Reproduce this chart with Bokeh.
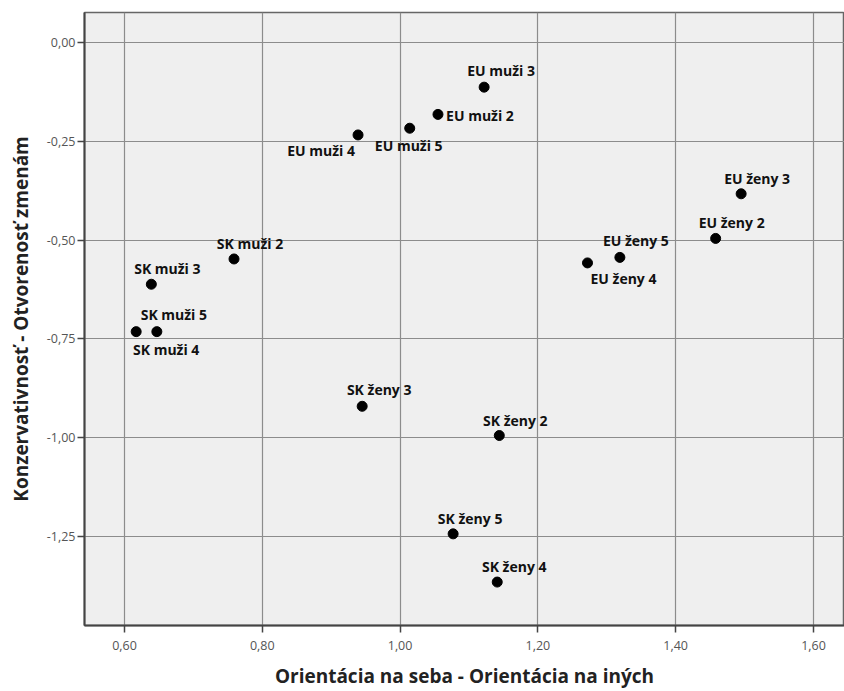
from bokeh.plotting import figure
from bokeh.models import FixedTicker, CustomJSTickFormatter, ColumnDataSource, Range1d
from bokeh.core.properties import value
from bokeh.embed import file_html
from bokeh.resources import INLINE

labels = ["EU muži 3", "EU muži 2", "EU muži 5", "EU muži 4",
          "EU ženy 3", "EU ženy 2", "EU ženy 5", "EU ženy 4",
          "SK muži 2", "SK muži 3", "SK muži 5", "SK muži 4",
          "SK ženy 3", "SK ženy 2", "SK ženy 5", "SK ženy 4"]
x_vals = [1.122, 1.055, 1.014, 0.939,
          1.495, 1.458, 1.319, 1.272,
          0.759, 0.639, 0.647, 0.617,
          0.945, 1.144, 1.077, 1.141]
y_vals = [-0.113, -0.182, -0.217, -0.234,
          -0.383, -0.496, -0.544, -0.558,
          -0.548, -0.612, -0.732, -0.732,
          -0.921, -0.995, -1.244, -1.366]
x_ticks = [0.6, 0.8, 1.0, 1.2, 1.4, 1.6]
y_ticks = [0.0, -0.25, -0.5, -0.75, -1.0, -1.25]

# label offsets in screen pixels (dx right, dy down)
label_dx = [17, 42, -1, -37, 16, 16, 16, 36, 16, 16, 17, 30, 17, 16, 17, 17]
label_dy = [-17, 1, 17, 16, -15, -16, -17, 16, -15, -16, -17, 18, -17, -15, -15, -16]

src = ColumnDataSource(dict(x=x_vals, y=y_vals, label=labels, dx=label_dx, dy=label_dy))

p = figure(width=844, height=691, output_backend="svg", toolbar_location=None,
           x_range=Range1d(0.542, 1.645), y_range=Range1d(-1.476, 0.076),
           min_border_left=84, min_border_right=0, min_border_top=12, min_border_bottom=66)

p.background_fill_color = "#efefef"
p.border_fill_color = "white"
p.outline_line_color = "#666666"
p.outline_line_width = 1.5

for ax in (p.xaxis, p.yaxis):
    ax.formatter = CustomJSTickFormatter(code="return tick.toFixed(2).replace('.', ',');")
    ax.major_label_text_font = "Open Sans"
    ax.major_label_text_font_size = "12.5px"
    ax.major_label_text_color = "#555555"
    ax.axis_label_text_font = "Open Sans"
    ax.axis_label_text_font_style = "bold"
    ax.axis_label_text_font_size = "19px"
    ax.axis_label_text_color = "#222222"
    ax.axis_line_color = "#444444"
    ax.axis_line_width = 2
    ax.major_tick_line_color = "#444444"
    ax.major_tick_line_width = 1.5
    ax.major_tick_in = 0
    ax.major_tick_out = 7
    ax.minor_tick_line_color = None

p.xaxis.ticker = FixedTicker(ticks=x_ticks)
p.yaxis.ticker = FixedTicker(ticks=y_ticks)
p.xaxis.axis_label = "Orientácia na seba - Orientácia na iných"
p.yaxis.axis_label = "Konzervativnosť - Otvorenosť zmenám"
p.xaxis.major_label_standoff = 8
p.yaxis.major_label_standoff = 2
p.xaxis.axis_label_standoff = 10
p.yaxis.axis_label_standoff = 10

p.xgrid.ticker = FixedTicker(ticks=x_ticks)
p.ygrid.ticker = FixedTicker(ticks=y_ticks)
p.grid.grid_line_color = "#8c8c8c"
p.grid.grid_line_width = 1.2

p.scatter("x", "y", source=src, size=10, color="black")
p.text("x", "y", text="label", source=src, x_offset="dx", y_offset="dy",
       text_align="center", text_baseline="middle",
       text_font=value("Open Sans"), text_font_style="bold",
       text_font_size="14px", text_color="#111111")

open("out.html", "w").write(file_html(p, INLINE))
